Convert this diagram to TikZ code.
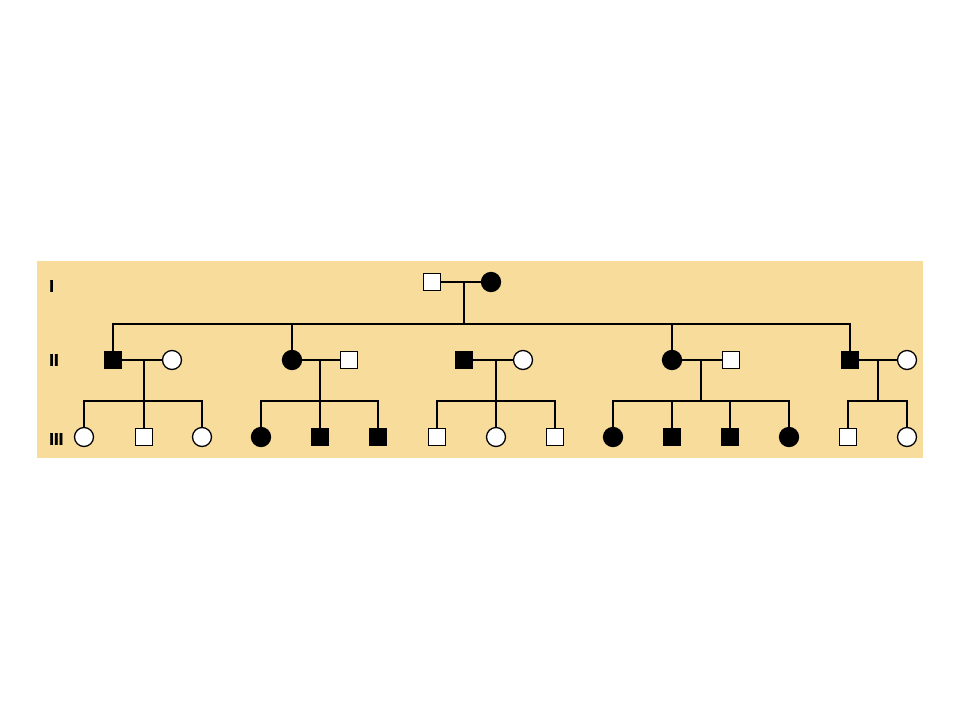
\documentclass[tikz,border=0pt]{standalone}
\usepackage{fontspec}
\setmainfont{Liberation Sans}
\newfontfamily\genfont[FakeBold=1.2]{Liberation Sans Bold}
\definecolor{panel}{RGB}{248,220,156}
\begin{document}
\begin{tikzpicture}[x=1pt,y=-1pt,
  ind/.style={draw=black, line width=1.3pt, inner sep=0pt},
  male/.style={ind, rectangle, fill=white, minimum size=17.5pt},
  female/.style={ind, circle, fill=white, minimum size=19pt},
  amale/.style={male, fill=black},
  afemale/.style={female, fill=black},
  link/.style={line width=1.9pt, line cap=rect},
  gen/.style={font=\genfont\fontsize{17}{17}\selectfont, anchor=west, inner sep=0pt}]
\useasboundingbox (0,0) rectangle (960,720);
\fill[panel] (37,261) rectangle (923,458);
% generation labels
\node[gen] (gI) at (49,286) {I};
\node[gen] (gII) at (49,360) {II};
\node[gen] (gIII) at (49,439) {III};
% helper rows
\coordinate (r2) at (0,324);
\coordinate (r3) at (0,401);
% generation I
\node[male] (I1) at (432,282) {};
\node[afemale] (I2) at (491,282) {};
\coordinate (mI) at (464,282);
% generation II
\node[amale] (II1) at (113,360) {};
\node[female] (II2) at (172,360) {};
\node[afemale] (II3) at (292,360) {};
\node[male] (II4) at (349,360) {};
\node[amale] (II5) at (464,360) {};
\node[female] (II6) at (523,360) {};
\node[afemale] (II7) at (672,360) {};
\node[male] (II8) at (731,360) {};
\node[amale] (II9) at (850,360) {};
\node[female] (II10) at (907,360) {};
\coordinate (m1) at (144,360);
\coordinate (m2) at (320,360);
\coordinate (m3) at (496,360);
\coordinate (m4) at (701,360);
\coordinate (m5) at (878,360);
% generation III
\node[female] (III1) at (84,437) {};
\node[male] (III2) at (144,437) {};
\node[female] (III3) at (202,437) {};
\node[afemale] (III4) at (261,437) {};
\node[amale] (III5) at (320,437) {};
\node[amale] (III6) at (378,437) {};
\node[male] (III7) at (437,437) {};
\node[female] (III8) at (496,437) {};
\node[male] (III9) at (555,437) {};
\node[afemale] (III10) at (613,437) {};
\node[amale] (III11) at (672,437) {};
\node[amale] (III12) at (730,437) {};
\node[afemale] (III13) at (789,437) {};
\node[male] (III14) at (848,437) {};
\node[female] (III15) at (907,437) {};
% connectors generation I -> II
\draw[link] (I1) -- (I2);
\draw[link] (mI) -- (mI |- r2);
\draw[link] (II1 |- r2) -- (II9 |- r2);
\foreach \c in {II1,II3,II7,II9}{\draw[link] (\c |- r2) -- (\c);}
% couples II
\draw[link] (II1) -- (II2);
\draw[link] (II3) -- (II4);
\draw[link] (II5) -- (II6);
\draw[link] (II7) -- (II8);
\draw[link] (II9) -- (II10);
\foreach \m in {m1,m2,m3,m4,m5}{\draw[link] (\m) -- (\m |- r3);}
% sibships III
\draw[link] (III1 |- r3) -- (III3 |- r3);
\draw[link] (III4 |- r3) -- (III6 |- r3);
\draw[link] (III7 |- r3) -- (III9 |- r3);
\draw[link] (III10 |- r3) -- (III13 |- r3);
\draw[link] (III14 |- r3) -- (III15 |- r3);
\foreach \c in {III1,III2,III3,III4,III5,III6,III7,III8,III9,III10,III11,III12,III13,III14,III15}{\draw[link] (\c |- r3) -- (\c);}
\end{tikzpicture}
\end{document}
